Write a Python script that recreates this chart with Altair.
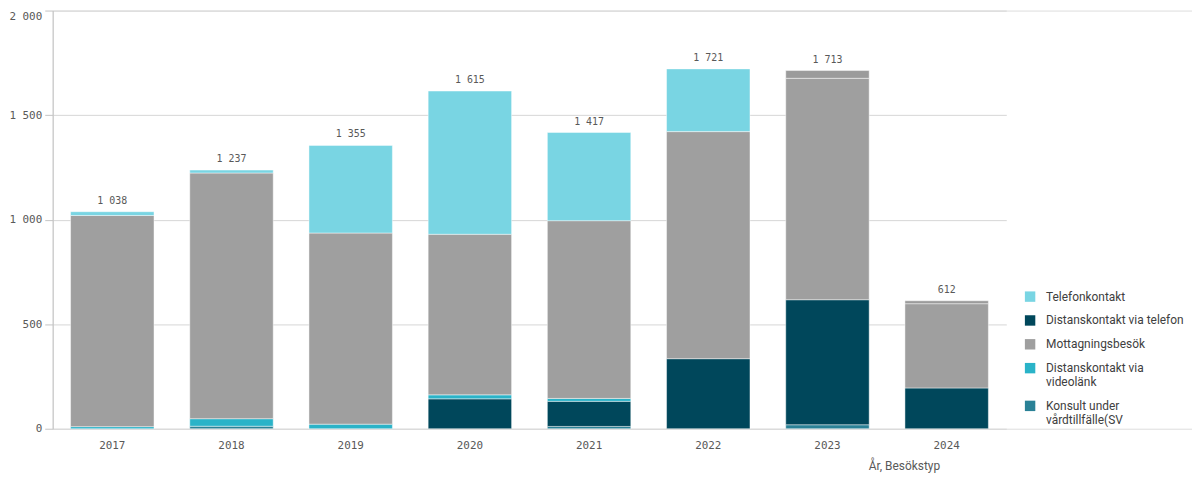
import altair as alt
import pandas as pd

years = ["2017", "2018", "2019", "2020", "2021", "2022", "2023", "2024"]
telefon = [18, 14, 419, 685, 422, 300, 0, 0]
dist_tel = [0, 0, 0, 143, 120, 335, 598, 195]
mottag = [1010, 1175, 914, 768, 850, 1086, 1059, 403]
video = [10, 36, 22, 19, 14, 0, 0, 0]
konsult = [0, 12, 0, 0, 11, 0, 19, 0]
ovrigt = [0, 0, 0, 0, 0, 0, 37, 14]

series = [
    ("Konsult under vårdtillfälle(SV", konsult, 0),
    ("Distanskontakt via telefon", dist_tel, 1),
    ("Distanskontakt via videolänk", video, 2),
    ("Mottagningsbesök", mottag, 3),
    ("Övrigt", ovrigt, 4),
    ("Telefonkontakt", telefon, 5),
]

rows = []
for name, vals, order in series:
    for y, v in zip(years, vals):
        if v > 0:
            rows.append({"year": y, "typ": name, "value": v, "ord": order})
df = pd.DataFrame(rows)

totals = pd.DataFrame({
    "year": years,
    "total": [sum(s[1][i] for s in series) for i in range(len(years))],
})

legend_order = ["Telefonkontakt", "Distanskontakt via telefon", "Mottagningsbesök",
                "Distanskontakt via videolänk", "Konsult under vårdtillfälle(SV"]
domain = legend_order + ["Övrigt"]
colors = ["#79d5e3", "#00475b", "#9f9f9f", "#2ab3c8", "#2a8196", "#9b9b9b"]

W, H = 1147, 421

xscale = alt.Scale(domain=years, range=[0, 960], paddingInner=0.3, paddingOuter=0.15)
yscale = alt.Scale(domain=[0, 2000], nice=False)

bars = alt.Chart(df).mark_bar(stroke="#ffffff", strokeWidth=1, strokeOpacity=0.45).encode(
    x=alt.X("year:N", scale=xscale,
            axis=alt.Axis(title="År, Besökstyp", labelAngle=0, ticks=False, tickSize=0, domain=False,
                          labelPadding=11, labelFont="DejaVu Sans Mono", labelFontSize=11,
                          labelColor="#595959", titleFont="Roboto", titleFontSize=12,
                          titleFontWeight="normal", titleColor="#595959",
                          titleX=821, titleY=37, titleAlign="left", titleBaseline="middle")),
    y=alt.Y("value:Q", stack="zero", scale=yscale,
            axis=alt.Axis(title=None, values=[0, 500, 1000, 1500, 2000],
                          labelExpr="replace(format(datum.value, ','), ',', ' ')",
                          labelFont="DejaVu Sans Mono", labelFontSize=11, labelColor="#595959",
                          labelBaseline=alt.condition("datum.value == 2000", alt.value("top"), alt.value("middle")),
                          domainColor="#c4c4c4", tickColor="#c4c4c4", tickSize=8, labelPadding=3,
                          gridColor="#d6d6d6", minExtent=45, maxExtent=45)),
    color=alt.Color("typ:N", scale=alt.Scale(domain=domain, range=colors),
                    legend=alt.Legend(title=None, values=legend_order, orient="none",
                                      legendX=978, legendY=282, symbolType="square",
                                      symbolSize=110, symbolStrokeWidth=0,
                                      labelFont="Roboto", labelFontSize=12, labelColor="#404040",
                                      labelExpr="datum.label == 'Distanskontakt via videolänk' ? ['Distanskontakt via', 'videolänk'] : datum.label == 'Konsult under vårdtillfälle(SV' ? ['Konsult under', 'vårdtillfälle(SV'] : datum.label",
                                      rowPadding=12, padding=0, labelOffset=10, labelLimit=200)),
    order=alt.Order("ord:Q", sort="ascending"),
)

labels = alt.Chart(totals).transform_calculate(
    lab="replace(format(datum.total, ','), ',', ' ')"
).mark_text(dy=-11, font="DejaVu Sans Mono", fontSize=10, color="#595959", baseline="middle").encode(
    x=alt.X("year:N", scale=xscale),
    y=alt.Y("total:Q", scale=yscale),
    text="lab:N",
)

chart = alt.layer(bars, labels).properties(
    width=W, height=H,
    padding={"left": 0, "top": 0, "right": 0, "bottom": 0},
).configure_view(stroke=None).configure(background="white")

chart.save("out.html", embed_options={"renderer": "svg", "actions": False})
